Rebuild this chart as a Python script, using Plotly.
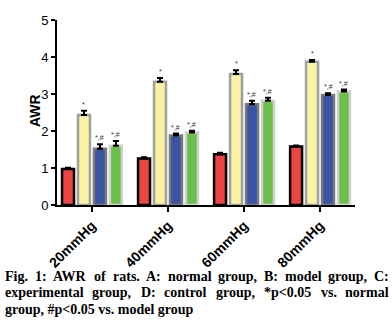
import plotly.graph_objects as go

categories = ["20mmHg", "40mmHg", "60mmHg", "80mmHg"]
groups = ["A", "B", "C", "D"]
vals_A = [0.97, 1.26, 1.37, 1.58]
vals_B = [2.43, 3.33, 3.54, 3.87]
vals_C = [1.52, 1.88, 2.72, 2.97]
vals_D = [1.60, 1.96, 2.82, 3.07]
err_A = [0.04, 0.03, 0.04, 0.03]
err_B = [0.12, 0.10, 0.10, 0.05]
err_C = [0.12, 0.05, 0.10, 0.05]
err_D = [0.13, 0.05, 0.08, 0.05]
sig_B = ["*", "*", "*", "*"]
sig_C = ["*,#", "*,#", "*,#", "*,#"]
sig_D = ["*,#", "*,#", "*,#", "*,#"]

caption_lines = [
    "Fig. 1: AWR of rats. A: normal group, B: model group, C:",
    "experimental group, D: control group, *p<0.05 vs. normal",
    "group, #p<0.05 vs. model group",
]

fills = ["#ee4444", "#fcf2a4", "#3a53a4", "#6cbf4b"]
lines_c = ["#000000", "#a0a0a0", "#7a7a7a", "#d0d0d0"]

W, H = 392, 321
ML, MR, MT, MB = 57, 37, 20, 116
PW, PH = W - ML - MR, H - MT - MB
BARGAP = 0.16

fig = go.Figure()
series = [vals_A, vals_B, vals_C, vals_D]
errs = [err_A, err_B, err_C, err_D]
for k in range(4):
    fig.add_trace(go.Bar(
        x=categories, y=series[k], name=groups[k],
        marker=dict(color=fills[k], line=dict(color=lines_c[k], width=2.5)),
        error_y=dict(type="data", symmetric=False, array=errs[k],
                     arrayminus=[0] * 4, color="black", thickness=2, width=3),
    ))

ann = []
slot = (1 - BARGAP) / 4
for k, sigs in [(1, sig_B), (2, sig_C), (3, sig_D)]:
    for i in range(4):
        ann.append(dict(x=i + (k - 1.5) * slot, y=series[k][i] + errs[k][i],
                        xref="x", yref="y", text=sigs[i], showarrow=False,
                        yanchor="bottom", yshift=1,
                        font=dict(family="Arial", size=7, color="#333333")))

ann.append(dict(x=(25 - ML) / PW, y=(MT + PH - 111) / PH, xref="paper", yref="paper",
                text="<b>AWR</b>", textangle=-90, showarrow=False,
                font=dict(family="Arial", size=14, color="black")))

# Times bold metrics (per 1000 em) for justifying caption lines
tw = {' ': 250, 'a': 500, 'b': 556, 'c': 444, 'd': 556, 'e': 444, 'f': 333, 'g': 500,
      'h': 556, 'i': 278, 'j': 333, 'k': 556, 'l': 278, 'm': 833, 'n': 556, 'o': 500,
      'p': 556, 'q': 556, 'r': 444, 's': 389, 't': 333, 'u': 556, 'v': 500, 'w': 722,
      'x': 500, 'y': 500, 'z': 444, 'A': 722, 'B': 667, 'C': 722, 'D': 722, 'F': 611,
      'R': 722, 'W': 1000, '.': 250, ',': 250, ':': 333, '*': 500, '#': 500, '<': 570,
      '0': 500, '1': 500, '5': 500}
FS = 14
LEFT, RIGHT = 4, 388
centers = [276, 292.5, 309]


def esc(s):
    return s.replace("<", "&lt;")


for li, line in enumerate(caption_lines):
    yp = (MT + PH - centers[li]) / PH
    words = line.split(" ")
    if li < 2:
        widths = [sum(tw.get(c, 500) for c in w_) * FS / 1000 for w_ in words]
        gap = (RIGHT - LEFT - sum(widths)) / (len(words) - 1)
        x = LEFT
        for w_, wd in zip(words, widths):
            ann.append(dict(x=(x - ML) / PW, y=yp, xref="paper", yref="paper",
                            text="<b>" + esc(w_) + "</b>", showarrow=False,
                            xanchor="left", yanchor="middle", borderpad=0,
                            font=dict(family="Liberation Serif", size=FS, color="black")))
            x += wd + gap
    else:
        ann.append(dict(x=(LEFT - ML) / PW, y=yp, xref="paper", yref="paper",
                        text="<b>" + esc(line) + "</b>", showarrow=False,
                        xanchor="left", yanchor="middle", borderpad=0,
                        font=dict(family="Liberation Serif", size=FS, color="black")))

fig.update_layout(
    width=W, height=H, margin=dict(l=ML, r=MR, t=MT, b=MB),
    barmode="group", bargap=BARGAP, bargroupgap=0.25,
    plot_bgcolor="white", paper_bgcolor="white", showlegend=False,
    annotations=ann,
    xaxis=dict(range=[-0.46, 3.46], showline=True, linecolor="black", linewidth=2,
               ticks="outside", ticklen=5, tickwidth=2, tickcolor="black",
               tickangle=-45, tickfont=dict(family="Arial", size=14, color="black"),
               tickprefix="<b>", ticksuffix="</b>", showgrid=False, zeroline=False),
    yaxis=dict(range=[0, 5], showline=True, linecolor="black", linewidth=2,
               ticks="outside", ticklen=4, tickwidth=2, tickcolor="black",
               tickvals=[0, 1, 2, 3, 4, 5],
               tickfont=dict(family="Arial", size=13, color="black"),
               tickprefix="<b>", ticksuffix="</b>", showgrid=False, zeroline=False),
)

fig.write_html("out.html")
